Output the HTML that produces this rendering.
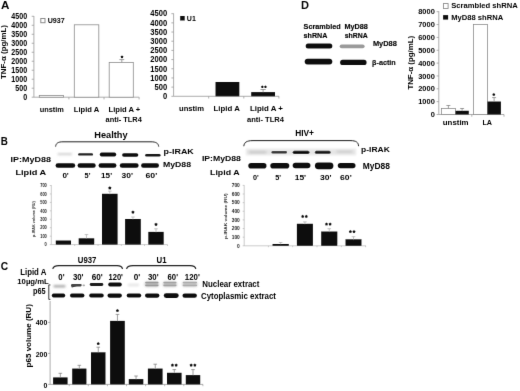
<!DOCTYPE html>
<html><head><meta charset="utf-8"><style>
html,body{margin:0;padding:0;background:#fff;}
svg{display:block;font-family:"Liberation Sans",sans-serif;}
</style></head><body>
<svg width="520" height="391" viewBox="0 0 520 391">
<rect width="520" height="391" fill="#fff"/>
<defs><filter id="b3" x="-20%" y="-100%" width="140%" height="300%"><feGaussianBlur stdDeviation="0.3"/></filter><filter id="b4" x="-20%" y="-100%" width="140%" height="300%"><feGaussianBlur stdDeviation="0.4"/></filter><filter id="b5" x="-20%" y="-100%" width="140%" height="300%"><feGaussianBlur stdDeviation="0.5"/></filter><filter id="b6" x="-20%" y="-100%" width="140%" height="300%"><feGaussianBlur stdDeviation="0.6"/></filter><filter id="b7" x="-20%" y="-100%" width="140%" height="300%"><feGaussianBlur stdDeviation="0.7"/></filter><filter id="b8" x="-20%" y="-100%" width="140%" height="300%"><feGaussianBlur stdDeviation="0.8"/></filter><filter id="b9" x="-20%" y="-100%" width="140%" height="300%"><feGaussianBlur stdDeviation="0.9"/></filter><filter id="b10" x="-20%" y="-100%" width="140%" height="300%"><feGaussianBlur stdDeviation="1.0"/></filter><filter id="b11" x="-20%" y="-100%" width="140%" height="300%"><feGaussianBlur stdDeviation="1.1"/></filter><filter id="b12" x="-20%" y="-100%" width="140%" height="300%"><feGaussianBlur stdDeviation="1.2"/></filter><filter id="b13" x="-20%" y="-100%" width="140%" height="300%"><feGaussianBlur stdDeviation="1.3"/></filter><filter id="b14" x="-20%" y="-100%" width="140%" height="300%"><feGaussianBlur stdDeviation="1.4"/></filter><filter id="b15" x="-20%" y="-100%" width="140%" height="300%"><feGaussianBlur stdDeviation="1.5"/></filter><filter id="gb" filterUnits="userSpaceOnUse" x="0" y="0" width="520" height="391"><feConvolveMatrix order="3" kernelMatrix="0 1 0 1 10 1 0 1 0" edgeMode="none" preserveAlpha="false"/></filter></defs>
<g filter="url(#gb)">
<text x="1.00" y="9.20" font-size="10.5" font-weight="bold" fill="#000" stroke="#000" stroke-width="0.0" textLength="8.40" lengthAdjust="spacingAndGlyphs" >A</text>
<line x1="33.90" y1="16.00" x2="33.90" y2="97.20" stroke="#999" stroke-width="0.8"/>
<line x1="31.70" y1="97.20" x2="33.90" y2="97.20" stroke="#999" stroke-width="0.8"/>
<text x="23.15" y="99.95" font-size="8.3" font-weight="bold" fill="#000" stroke="#000" stroke-width="0.0" textLength="3.95" lengthAdjust="spacingAndGlyphs" >0</text>
<line x1="31.70" y1="88.21" x2="33.90" y2="88.21" stroke="#999" stroke-width="0.8"/>
<text x="15.25" y="90.96" font-size="8.3" font-weight="bold" fill="#000" stroke="#000" stroke-width="0.0" textLength="11.85" lengthAdjust="spacingAndGlyphs" >500</text>
<line x1="31.70" y1="79.22" x2="33.90" y2="79.22" stroke="#999" stroke-width="0.8"/>
<text x="11.30" y="81.97" font-size="8.3" font-weight="bold" fill="#000" stroke="#000" stroke-width="0.0" textLength="15.80" lengthAdjust="spacingAndGlyphs" >1000</text>
<line x1="31.70" y1="70.23" x2="33.90" y2="70.23" stroke="#999" stroke-width="0.8"/>
<text x="11.30" y="72.98" font-size="8.3" font-weight="bold" fill="#000" stroke="#000" stroke-width="0.0" textLength="15.80" lengthAdjust="spacingAndGlyphs" >1500</text>
<line x1="31.70" y1="61.24" x2="33.90" y2="61.24" stroke="#999" stroke-width="0.8"/>
<text x="11.30" y="63.99" font-size="8.3" font-weight="bold" fill="#000" stroke="#000" stroke-width="0.0" textLength="15.80" lengthAdjust="spacingAndGlyphs" >2000</text>
<line x1="31.70" y1="52.25" x2="33.90" y2="52.25" stroke="#999" stroke-width="0.8"/>
<text x="11.30" y="55.00" font-size="8.3" font-weight="bold" fill="#000" stroke="#000" stroke-width="0.0" textLength="15.80" lengthAdjust="spacingAndGlyphs" >2500</text>
<line x1="31.70" y1="43.26" x2="33.90" y2="43.26" stroke="#999" stroke-width="0.8"/>
<text x="11.30" y="46.01" font-size="8.3" font-weight="bold" fill="#000" stroke="#000" stroke-width="0.0" textLength="15.80" lengthAdjust="spacingAndGlyphs" >3000</text>
<line x1="31.70" y1="34.27" x2="33.90" y2="34.27" stroke="#999" stroke-width="0.8"/>
<text x="11.30" y="37.02" font-size="8.3" font-weight="bold" fill="#000" stroke="#000" stroke-width="0.0" textLength="15.80" lengthAdjust="spacingAndGlyphs" >3500</text>
<line x1="31.70" y1="25.28" x2="33.90" y2="25.28" stroke="#999" stroke-width="0.8"/>
<text x="11.30" y="28.03" font-size="8.3" font-weight="bold" fill="#000" stroke="#000" stroke-width="0.0" textLength="15.80" lengthAdjust="spacingAndGlyphs" >4000</text>
<line x1="31.70" y1="16.29" x2="33.90" y2="16.29" stroke="#999" stroke-width="0.8"/>
<text x="11.30" y="19.04" font-size="8.3" font-weight="bold" fill="#000" stroke="#000" stroke-width="0.0" textLength="15.80" lengthAdjust="spacingAndGlyphs" >4500</text>
<line x1="33.90" y1="97.20" x2="139.20" y2="97.20" stroke="#999" stroke-width="0.8"/>
<line x1="68.90" y1="97.20" x2="68.90" y2="99.40" stroke="#999" stroke-width="0.8"/>
<line x1="104.00" y1="97.20" x2="104.00" y2="99.40" stroke="#999" stroke-width="0.8"/>
<line x1="139.10" y1="97.20" x2="139.10" y2="99.40" stroke="#999" stroke-width="0.8"/>
<rect x="39.30" y="95.40" width="24.20" height="1.80" fill="#fff" stroke="#888" stroke-width="0.8" />
<rect x="74.30" y="24.80" width="24.50" height="72.40" fill="#fff" stroke="#888" stroke-width="0.8" />
<rect x="109.20" y="62.40" width="24.10" height="34.80" fill="#fff" stroke="#888" stroke-width="0.8" />
<line x1="121.80" y1="62.40" x2="121.80" y2="59.60" stroke="#777" stroke-width="0.7"/>
<line x1="119.40" y1="59.60" x2="124.20" y2="59.60" stroke="#777" stroke-width="0.7"/>
<polygon points="122.00,55.48 122.64,56.12 123.45,56.53 123.03,57.34 122.89,58.23 122.00,58.09 121.11,58.23 120.97,57.34 120.55,56.53 121.36,56.12" fill="#111"/>
<rect x="40.80" y="18.50" width="4.20" height="4.20" fill="#fff" stroke="#888" stroke-width="1.0" />
<text x="47.70" y="23.30" font-size="7.6" font-weight="bold" fill="#000" stroke="#000" stroke-width="0.0" textLength="17.00" lengthAdjust="spacingAndGlyphs" >U937</text>
<text transform="translate(6.00,79.00) rotate(-90)" x="0" y="0" font-size="7.0" font-weight="bold" fill="#000" stroke="#000" stroke-width="0.0" textLength="54.00" lengthAdjust="spacingAndGlyphs">TNF-α (pg/mL)</text>
<text x="39.70" y="112.00" font-size="7.2" font-weight="bold" fill="#000" stroke="#000" stroke-width="0.0" textLength="24.20" lengthAdjust="spacingAndGlyphs" >unstim</text>
<text x="73.80" y="112.00" font-size="7.2" font-weight="bold" fill="#000" stroke="#000" stroke-width="0.0" textLength="25.40" lengthAdjust="spacingAndGlyphs" >Lipid A</text>
<text x="108.50" y="112.00" font-size="7.2" font-weight="bold" fill="#000" stroke="#000" stroke-width="0.0" textLength="31.80" lengthAdjust="spacingAndGlyphs" >Lipid A +</text>
<text x="105.60" y="122.00" font-size="7.2" font-weight="bold" fill="#000" stroke="#000" stroke-width="0.0" textLength="36.20" lengthAdjust="spacingAndGlyphs" >anti- TLR4</text>
<line x1="173.60" y1="13.40" x2="173.60" y2="96.30" stroke="#999" stroke-width="0.8"/>
<line x1="171.40" y1="96.30" x2="173.60" y2="96.30" stroke="#999" stroke-width="0.8"/>
<text x="162.90" y="99.05" font-size="8.3" font-weight="bold" fill="#000" stroke="#000" stroke-width="0.0" textLength="4.20" lengthAdjust="spacingAndGlyphs" >0</text>
<line x1="171.40" y1="87.12" x2="173.60" y2="87.12" stroke="#999" stroke-width="0.8"/>
<text x="154.50" y="89.87" font-size="8.3" font-weight="bold" fill="#000" stroke="#000" stroke-width="0.0" textLength="12.60" lengthAdjust="spacingAndGlyphs" >500</text>
<line x1="171.40" y1="77.94" x2="173.60" y2="77.94" stroke="#999" stroke-width="0.8"/>
<text x="150.30" y="80.69" font-size="8.3" font-weight="bold" fill="#000" stroke="#000" stroke-width="0.0" textLength="16.80" lengthAdjust="spacingAndGlyphs" >1000</text>
<line x1="171.40" y1="68.76" x2="173.60" y2="68.76" stroke="#999" stroke-width="0.8"/>
<text x="150.30" y="71.51" font-size="8.3" font-weight="bold" fill="#000" stroke="#000" stroke-width="0.0" textLength="16.80" lengthAdjust="spacingAndGlyphs" >1500</text>
<line x1="171.40" y1="59.58" x2="173.60" y2="59.58" stroke="#999" stroke-width="0.8"/>
<text x="150.30" y="62.33" font-size="8.3" font-weight="bold" fill="#000" stroke="#000" stroke-width="0.0" textLength="16.80" lengthAdjust="spacingAndGlyphs" >2000</text>
<line x1="171.40" y1="50.40" x2="173.60" y2="50.40" stroke="#999" stroke-width="0.8"/>
<text x="150.30" y="53.15" font-size="8.3" font-weight="bold" fill="#000" stroke="#000" stroke-width="0.0" textLength="16.80" lengthAdjust="spacingAndGlyphs" >2500</text>
<line x1="171.40" y1="41.22" x2="173.60" y2="41.22" stroke="#999" stroke-width="0.8"/>
<text x="150.30" y="43.97" font-size="8.3" font-weight="bold" fill="#000" stroke="#000" stroke-width="0.0" textLength="16.80" lengthAdjust="spacingAndGlyphs" >3000</text>
<line x1="171.40" y1="32.04" x2="173.60" y2="32.04" stroke="#999" stroke-width="0.8"/>
<text x="150.30" y="34.79" font-size="8.3" font-weight="bold" fill="#000" stroke="#000" stroke-width="0.0" textLength="16.80" lengthAdjust="spacingAndGlyphs" >3500</text>
<line x1="171.40" y1="22.86" x2="173.60" y2="22.86" stroke="#999" stroke-width="0.8"/>
<text x="150.30" y="25.61" font-size="8.3" font-weight="bold" fill="#000" stroke="#000" stroke-width="0.0" textLength="16.80" lengthAdjust="spacingAndGlyphs" >4000</text>
<line x1="171.40" y1="13.68" x2="173.60" y2="13.68" stroke="#999" stroke-width="0.8"/>
<text x="150.30" y="16.43" font-size="8.3" font-weight="bold" fill="#000" stroke="#000" stroke-width="0.0" textLength="16.80" lengthAdjust="spacingAndGlyphs" >4500</text>
<line x1="173.60" y1="96.30" x2="279.00" y2="96.30" stroke="#999" stroke-width="0.8"/>
<line x1="208.70" y1="96.30" x2="208.70" y2="98.50" stroke="#999" stroke-width="0.8"/>
<line x1="243.80" y1="96.30" x2="243.80" y2="98.50" stroke="#999" stroke-width="0.8"/>
<line x1="278.90" y1="96.30" x2="278.90" y2="98.50" stroke="#999" stroke-width="0.8"/>
<rect x="215.50" y="82.00" width="23.80" height="14.30" fill="#111" />
<rect x="251.20" y="92.10" width="23.80" height="4.20" fill="#111" />
<line x1="263.10" y1="92.10" x2="263.10" y2="89.50" stroke="#777" stroke-width="0.7"/>
<line x1="260.50" y1="89.50" x2="265.70" y2="89.50" stroke="#777" stroke-width="0.7"/>
<polygon points="262.35,85.48 262.95,86.08 263.70,86.46 263.31,87.21 263.18,88.05 262.35,87.91 261.52,88.05 261.39,87.21 261.00,86.46 261.75,86.08" fill="#111"/>
<polygon points="265.45,85.48 266.05,86.08 266.80,86.46 266.41,87.21 266.28,88.05 265.45,87.91 264.62,88.05 264.49,87.21 264.10,86.46 264.85,86.08" fill="#111"/>
<rect x="180.20" y="16.00" width="4.50" height="4.50" fill="#111" />
<text x="186.80" y="20.80" font-size="7.8" font-weight="bold" fill="#000" stroke="#000" stroke-width="0.0" textLength="9.00" lengthAdjust="spacingAndGlyphs" >U1</text>
<text x="179.00" y="111.00" font-size="7.2" font-weight="bold" fill="#000" stroke="#000" stroke-width="0.0" textLength="25.00" lengthAdjust="spacingAndGlyphs" >unstim</text>
<text x="213.60" y="111.00" font-size="7.2" font-weight="bold" fill="#000" stroke="#000" stroke-width="0.0" textLength="26.20" lengthAdjust="spacingAndGlyphs" >Lipid A</text>
<text x="250.00" y="111.10" font-size="7.2" font-weight="bold" fill="#000" stroke="#000" stroke-width="0.0" textLength="32.90" lengthAdjust="spacingAndGlyphs" >Lipid A +</text>
<text x="247.00" y="121.70" font-size="7.2" font-weight="bold" fill="#000" stroke="#000" stroke-width="0.0" textLength="36.90" lengthAdjust="spacingAndGlyphs" >anti- TLR4</text>
<text x="301.10" y="8.70" font-size="10.0" font-weight="bold" fill="#000" stroke="#000" stroke-width="0.0" textLength="8.00" lengthAdjust="spacingAndGlyphs" >D</text>
<text x="303.60" y="29.40" font-size="8.0" font-weight="bold" fill="#000" stroke="#000" stroke-width="0.15" textLength="37.10" lengthAdjust="spacingAndGlyphs" >Scrambled</text>
<text x="303.60" y="37.60" font-size="8.0" font-weight="bold" fill="#000" stroke="#000" stroke-width="0.15" textLength="23.80" lengthAdjust="spacingAndGlyphs" >shRNA</text>
<text x="344.40" y="29.40" font-size="8.0" font-weight="bold" fill="#000" stroke="#000" stroke-width="0.15" textLength="23.40" lengthAdjust="spacingAndGlyphs" >MyD88</text>
<text x="344.70" y="37.60" font-size="8.0" font-weight="bold" fill="#000" stroke="#000" stroke-width="0.15" textLength="23.10" lengthAdjust="spacingAndGlyphs" >shRNA</text>
<rect x="305.70" y="43.60" width="26.60" height="5.00" rx="2.50" fill="#111" opacity="1.0" filter="url(#b6)"/>
<rect x="339.70" y="44.40" width="24.90" height="3.80" rx="1.90" fill="#9a9a9a" opacity="1.0" filter="url(#b6)"/>
<rect x="304.70" y="58.70" width="27.60" height="5.80" rx="2.90" fill="#111" opacity="1.0" filter="url(#b6)"/>
<rect x="340.10" y="59.80" width="26.50" height="5.20" rx="2.60" fill="#111" opacity="1.0" filter="url(#b6)"/>
<text x="372.90" y="46.30" font-size="7.8" font-weight="bold" fill="#000" stroke="#000" stroke-width="0.12" textLength="24.00" lengthAdjust="spacingAndGlyphs" >MyD88</text>
<text x="372.10" y="64.60" font-size="7.6" font-weight="bold" fill="#000" stroke="#000" stroke-width="0.12" textLength="23.70" lengthAdjust="spacingAndGlyphs" >β-actin</text>
<line x1="438.80" y1="11.20" x2="438.80" y2="114.50" stroke="#999" stroke-width="0.8"/>
<line x1="436.60" y1="114.50" x2="438.80" y2="114.50" stroke="#999" stroke-width="0.8"/>
<text x="430.65" y="117.05" font-size="7.6" font-weight="bold" fill="#000" stroke="#000" stroke-width="0.0" textLength="4.15" lengthAdjust="spacingAndGlyphs" >0</text>
<line x1="436.60" y1="101.65" x2="438.80" y2="101.65" stroke="#999" stroke-width="0.8"/>
<text x="418.20" y="104.20" font-size="7.6" font-weight="bold" fill="#000" stroke="#000" stroke-width="0.0" textLength="16.60" lengthAdjust="spacingAndGlyphs" >1000</text>
<line x1="436.60" y1="88.80" x2="438.80" y2="88.80" stroke="#999" stroke-width="0.8"/>
<text x="418.20" y="91.35" font-size="7.6" font-weight="bold" fill="#000" stroke="#000" stroke-width="0.0" textLength="16.60" lengthAdjust="spacingAndGlyphs" >2000</text>
<line x1="436.60" y1="75.95" x2="438.80" y2="75.95" stroke="#999" stroke-width="0.8"/>
<text x="418.20" y="78.50" font-size="7.6" font-weight="bold" fill="#000" stroke="#000" stroke-width="0.0" textLength="16.60" lengthAdjust="spacingAndGlyphs" >3000</text>
<line x1="436.60" y1="63.10" x2="438.80" y2="63.10" stroke="#999" stroke-width="0.8"/>
<text x="418.20" y="65.65" font-size="7.6" font-weight="bold" fill="#000" stroke="#000" stroke-width="0.0" textLength="16.60" lengthAdjust="spacingAndGlyphs" >4000</text>
<line x1="436.60" y1="50.25" x2="438.80" y2="50.25" stroke="#999" stroke-width="0.8"/>
<text x="418.20" y="52.80" font-size="7.6" font-weight="bold" fill="#000" stroke="#000" stroke-width="0.0" textLength="16.60" lengthAdjust="spacingAndGlyphs" >5000</text>
<line x1="436.60" y1="37.40" x2="438.80" y2="37.40" stroke="#999" stroke-width="0.8"/>
<text x="418.20" y="39.95" font-size="7.6" font-weight="bold" fill="#000" stroke="#000" stroke-width="0.0" textLength="16.60" lengthAdjust="spacingAndGlyphs" >6000</text>
<line x1="436.60" y1="24.55" x2="438.80" y2="24.55" stroke="#999" stroke-width="0.8"/>
<text x="418.20" y="27.10" font-size="7.6" font-weight="bold" fill="#000" stroke="#000" stroke-width="0.0" textLength="16.60" lengthAdjust="spacingAndGlyphs" >7000</text>
<line x1="436.60" y1="11.70" x2="438.80" y2="11.70" stroke="#999" stroke-width="0.8"/>
<text x="418.20" y="14.25" font-size="7.6" font-weight="bold" fill="#000" stroke="#000" stroke-width="0.0" textLength="16.60" lengthAdjust="spacingAndGlyphs" >8000</text>
<line x1="438.80" y1="114.50" x2="504.00" y2="114.50" stroke="#999" stroke-width="0.8"/>
<line x1="471.80" y1="114.50" x2="471.80" y2="116.70" stroke="#999" stroke-width="0.8"/>
<line x1="504.00" y1="114.50" x2="504.00" y2="116.70" stroke="#999" stroke-width="0.8"/>
<rect x="441.50" y="108.50" width="13.90" height="6.00" fill="#fff" stroke="#888" stroke-width="0.8" />
<line x1="448.40" y1="108.50" x2="448.40" y2="105.50" stroke="#777" stroke-width="0.7"/>
<line x1="446.40" y1="105.50" x2="450.40" y2="105.50" stroke="#777" stroke-width="0.7"/>
<rect x="455.40" y="110.80" width="13.40" height="3.70" fill="#111" />
<line x1="462.10" y1="110.80" x2="462.10" y2="108.50" stroke="#777" stroke-width="0.7"/>
<line x1="460.10" y1="108.50" x2="464.10" y2="108.50" stroke="#777" stroke-width="0.7"/>
<rect x="473.50" y="24.50" width="14.00" height="90.00" fill="#fff" stroke="#888" stroke-width="0.8" />
<rect x="487.30" y="101.50" width="13.60" height="13.00" fill="#111" />
<line x1="494.10" y1="101.50" x2="494.10" y2="97.60" stroke="#777" stroke-width="0.7"/>
<line x1="492.10" y1="97.60" x2="496.10" y2="97.60" stroke="#777" stroke-width="0.7"/>
<polygon points="493.80,93.02 494.46,93.69 495.30,94.11 494.87,94.95 494.73,95.87 493.80,95.72 492.87,95.87 492.73,94.95 492.30,94.11 493.14,93.69" fill="#111"/>
<rect x="443.40" y="3.60" width="4.70" height="4.80" fill="#fff" stroke="#777" stroke-width="0.8" />
<text x="451.20" y="8.30" font-size="8.0" font-weight="bold" fill="#000" stroke="#000" stroke-width="0.0" textLength="66.50" lengthAdjust="spacingAndGlyphs" >Scrambled shRNA</text>
<rect x="443.10" y="15.10" width="5.00" height="4.50" fill="#111" />
<text x="451.20" y="20.10" font-size="8.0" font-weight="bold" fill="#000" stroke="#000" stroke-width="0.0" textLength="52.00" lengthAdjust="spacingAndGlyphs" >MyD88 shRNA</text>
<text x="442.80" y="124.60" font-size="7.6" font-weight="bold" fill="#000" stroke="#000" stroke-width="0.0" textLength="25.80" lengthAdjust="spacingAndGlyphs" >unstim</text>
<text x="482.40" y="124.50" font-size="7.6" font-weight="bold" fill="#000" stroke="#000" stroke-width="0.0" textLength="9.60" lengthAdjust="spacingAndGlyphs" >LA</text>
<text transform="translate(413.40,89.60) rotate(-90)" x="0" y="0" font-size="7.0" font-weight="bold" fill="#000" stroke="#000" stroke-width="0.0" textLength="53.70" lengthAdjust="spacingAndGlyphs">TNF-α (pg/mL)</text>
<text x="0.80" y="144.80" font-size="10.8" font-weight="bold" fill="#000" stroke="#000" stroke-width="0.0" textLength="7.10" lengthAdjust="spacingAndGlyphs" >B</text>
<text x="94.30" y="138.00" font-size="8.4" font-weight="bold" fill="#000" stroke="#000" stroke-width="0.0" textLength="33.30" lengthAdjust="spacingAndGlyphs" >Healthy</text>
<path d="M55.6,146.6 C56,143.2 58,141.8 63,141.8 L151,141.8 C156,141.8 158.3,143.2 158.7,146.6" fill="none" stroke="#222" stroke-width="1.0"/>
<text x="10.60" y="161.60" font-size="8.0" font-weight="bold" fill="#000" stroke="#000" stroke-width="0.0" textLength="40.40" lengthAdjust="spacingAndGlyphs" >IP:MyD88</text>
<text x="15.40" y="174.80" font-size="7.8" font-weight="bold" fill="#000" stroke="#000" stroke-width="0.0" textLength="30.80" lengthAdjust="spacingAndGlyphs" >Lipid A</text>
<rect x="57.40" y="153.10" width="14.80" height="2.20" rx="1.10" fill="#d4d4d4" opacity="1.0" filter="url(#b8)"/>
<rect x="78.20" y="153.20" width="14.80" height="2.40" rx="1.20" fill="#222" opacity="1.0" filter="url(#b6)"/>
<rect x="99.80" y="152.60" width="16.40" height="4.00" rx="2.00" fill="#111" opacity="1.0" filter="url(#b5)"/>
<rect x="122.10" y="153.20" width="16.20" height="3.60" rx="1.80" fill="#111" opacity="1.0" filter="url(#b5)"/>
<rect x="145.20" y="153.90" width="15.30" height="2.60" rx="1.30" fill="#151515" opacity="1.0" filter="url(#b6)"/>
<rect x="55.60" y="163.20" width="19.60" height="4.60" rx="2.30" fill="#0d0d0d" opacity="1.0" filter="url(#b5)"/>
<rect x="77.60" y="163.20" width="18.10" height="4.60" rx="2.30" fill="#0d0d0d" opacity="1.0" filter="url(#b5)"/>
<rect x="98.60" y="163.20" width="17.80" height="4.60" rx="2.30" fill="#0d0d0d" opacity="1.0" filter="url(#b5)"/>
<rect x="119.80" y="163.20" width="18.80" height="4.60" rx="2.30" fill="#0d0d0d" opacity="1.0" filter="url(#b5)"/>
<rect x="141.10" y="163.20" width="17.90" height="4.60" rx="2.30" fill="#0d0d0d" opacity="1.0" filter="url(#b5)"/>
<text x="163.60" y="153.90" font-size="7.8" font-weight="bold" fill="#000" stroke="#000" stroke-width="0.0" textLength="30.20" lengthAdjust="spacingAndGlyphs" >p-IRAK</text>
<text x="162.90" y="167.10" font-size="8.0" font-weight="bold" fill="#000" stroke="#000" stroke-width="0.0" textLength="28.10" lengthAdjust="spacingAndGlyphs" >MyD88</text>
<text x="62.40" y="178.40" font-size="8.0" font-weight="bold" fill="#000" stroke="#000" stroke-width="0.0" textLength="6.40" lengthAdjust="spacingAndGlyphs" >0'</text>
<text x="84.60" y="178.40" font-size="8.0" font-weight="bold" fill="#000" stroke="#000" stroke-width="0.0" textLength="5.80" lengthAdjust="spacingAndGlyphs" >5'</text>
<text x="101.10" y="178.40" font-size="8.0" font-weight="bold" fill="#000" stroke="#000" stroke-width="0.0" textLength="11.00" lengthAdjust="spacingAndGlyphs" >15'</text>
<text x="121.60" y="178.40" font-size="8.0" font-weight="bold" fill="#000" stroke="#000" stroke-width="0.0" textLength="11.40" lengthAdjust="spacingAndGlyphs" >30'</text>
<text x="145.50" y="178.40" font-size="8.0" font-weight="bold" fill="#000" stroke="#000" stroke-width="0.0" textLength="11.80" lengthAdjust="spacingAndGlyphs" >60'</text>
<line x1="51.30" y1="185.20" x2="51.30" y2="244.60" stroke="#aaa" stroke-width="0.6"/>
<line x1="49.80" y1="244.60" x2="51.30" y2="244.60" stroke="#aaa" stroke-width="0.6"/>
<text x="44.60" y="246.35" font-size="5.0" font-weight="bold" fill="#222" stroke="#222" stroke-width="0.0" textLength="2.20" lengthAdjust="spacingAndGlyphs" >0</text>
<line x1="49.80" y1="236.16" x2="51.30" y2="236.16" stroke="#aaa" stroke-width="0.6"/>
<text x="40.20" y="237.91" font-size="5.0" font-weight="bold" fill="#222" stroke="#222" stroke-width="0.0" textLength="6.60" lengthAdjust="spacingAndGlyphs" >100</text>
<line x1="49.80" y1="227.72" x2="51.30" y2="227.72" stroke="#aaa" stroke-width="0.6"/>
<text x="40.20" y="229.47" font-size="5.0" font-weight="bold" fill="#222" stroke="#222" stroke-width="0.0" textLength="6.60" lengthAdjust="spacingAndGlyphs" >200</text>
<line x1="49.80" y1="219.28" x2="51.30" y2="219.28" stroke="#aaa" stroke-width="0.6"/>
<text x="40.20" y="221.03" font-size="5.0" font-weight="bold" fill="#222" stroke="#222" stroke-width="0.0" textLength="6.60" lengthAdjust="spacingAndGlyphs" >300</text>
<line x1="49.80" y1="210.84" x2="51.30" y2="210.84" stroke="#aaa" stroke-width="0.6"/>
<text x="40.20" y="212.59" font-size="5.0" font-weight="bold" fill="#222" stroke="#222" stroke-width="0.0" textLength="6.60" lengthAdjust="spacingAndGlyphs" >400</text>
<line x1="49.80" y1="202.40" x2="51.30" y2="202.40" stroke="#aaa" stroke-width="0.6"/>
<text x="40.20" y="204.15" font-size="5.0" font-weight="bold" fill="#222" stroke="#222" stroke-width="0.0" textLength="6.60" lengthAdjust="spacingAndGlyphs" >500</text>
<line x1="49.80" y1="193.96" x2="51.30" y2="193.96" stroke="#aaa" stroke-width="0.6"/>
<text x="40.20" y="195.71" font-size="5.0" font-weight="bold" fill="#222" stroke="#222" stroke-width="0.0" textLength="6.60" lengthAdjust="spacingAndGlyphs" >600</text>
<line x1="49.80" y1="185.52" x2="51.30" y2="185.52" stroke="#aaa" stroke-width="0.6"/>
<text x="40.20" y="187.27" font-size="5.0" font-weight="bold" fill="#222" stroke="#222" stroke-width="0.0" textLength="6.60" lengthAdjust="spacingAndGlyphs" >700</text>
<line x1="51.30" y1="244.60" x2="167.50" y2="244.60" stroke="#aaa" stroke-width="0.6"/>
<line x1="74.70" y1="244.60" x2="74.70" y2="246.00" stroke="#aaa" stroke-width="0.6"/>
<line x1="98.00" y1="244.60" x2="98.00" y2="246.00" stroke="#aaa" stroke-width="0.6"/>
<line x1="121.30" y1="244.60" x2="121.30" y2="246.00" stroke="#aaa" stroke-width="0.6"/>
<line x1="144.50" y1="244.60" x2="144.50" y2="246.00" stroke="#aaa" stroke-width="0.6"/>
<line x1="167.50" y1="244.60" x2="167.50" y2="246.00" stroke="#aaa" stroke-width="0.6"/>
<rect x="55.80" y="240.50" width="15.20" height="4.10" fill="#111" />
<rect x="78.70" y="238.30" width="15.50" height="6.30" fill="#111" />
<line x1="86.45" y1="238.30" x2="86.45" y2="234.60" stroke="#aaa" stroke-width="0.7"/>
<line x1="84.65" y1="234.60" x2="88.25" y2="234.60" stroke="#aaa" stroke-width="0.7"/>
<rect x="102.00" y="193.80" width="15.60" height="50.80" fill="#111" />
<line x1="109.80" y1="193.80" x2="109.80" y2="191.10" stroke="#aaa" stroke-width="0.7"/>
<line x1="108.00" y1="191.10" x2="111.60" y2="191.10" stroke="#aaa" stroke-width="0.7"/>
<polygon points="109.80,186.27 110.53,187.00 111.45,187.46 110.98,188.38 110.82,189.40 109.80,189.24 108.78,189.40 108.62,188.38 108.15,187.46 109.07,187.00" fill="#111"/>
<rect x="125.10" y="219.00" width="15.70" height="25.60" fill="#111" />
<line x1="132.95" y1="219.00" x2="132.95" y2="217.00" stroke="#aaa" stroke-width="0.7"/>
<line x1="131.15" y1="217.00" x2="134.75" y2="217.00" stroke="#aaa" stroke-width="0.7"/>
<polygon points="132.95,210.47 133.68,211.20 134.60,211.66 134.13,212.58 133.97,213.60 132.95,213.44 131.93,213.60 131.77,212.58 131.30,211.66 132.22,211.20" fill="#111"/>
<rect x="148.30" y="231.90" width="15.40" height="12.70" fill="#111" />
<line x1="156.00" y1="231.90" x2="156.00" y2="228.80" stroke="#aaa" stroke-width="0.7"/>
<line x1="154.20" y1="228.80" x2="157.80" y2="228.80" stroke="#aaa" stroke-width="0.7"/>
<polygon points="156.00,222.67 156.73,223.40 157.65,223.86 157.18,224.78 157.02,225.80 156.00,225.64 154.98,225.80 154.82,224.78 154.35,223.86 155.27,223.40" fill="#111"/>
<text transform="translate(34.60,236.90) rotate(-90)" x="0" y="0" font-size="4.2" font-weight="bold" fill="#333" stroke="#333" stroke-width="0.0" textLength="35.70" lengthAdjust="spacingAndGlyphs">p-IRAK volume (RU)</text>
<text x="295.20" y="135.90" font-size="8.2" font-weight="bold" fill="#000" stroke="#000" stroke-width="0.0" textLength="18.80" lengthAdjust="spacingAndGlyphs" >HIV+</text>
<path d="M243.8,146.2 C244.2,142.4 246.5,140.6 253,140.6 L350,140.6 C356.5,140.6 358.3,142.4 358.6,146.2" fill="none" stroke="#222" stroke-width="1.0"/>
<text x="201.90" y="161.40" font-size="8.0" font-weight="bold" fill="#000" stroke="#000" stroke-width="0.0" textLength="39.00" lengthAdjust="spacingAndGlyphs" >IP:MyD88</text>
<text x="210.00" y="175.00" font-size="7.8" font-weight="bold" fill="#000" stroke="#000" stroke-width="0.0" textLength="29.60" lengthAdjust="spacingAndGlyphs" >Lipid A</text>
<rect x="246" y="148.8" width="110" height="6.4" fill="#e6e6e6" filter="url(#b10)"/>
<rect x="249.00" y="151.30" width="17.50" height="2.00" rx="1.00" fill="#c4c4c4" opacity="1.0" filter="url(#b8)"/>
<rect x="271.50" y="151.10" width="15.50" height="2.40" rx="1.20" fill="#333" opacity="1.0" filter="url(#b6)"/>
<rect x="292.70" y="150.70" width="16.80" height="3.20" rx="1.60" fill="#0c0c0c" opacity="1.0" filter="url(#b6)"/>
<rect x="314.90" y="150.80" width="15.70" height="3.00" rx="1.50" fill="#181818" opacity="1.0" filter="url(#b6)"/>
<rect x="336.40" y="150.70" width="16.20" height="1.80" rx="0.90" fill="#c8c8c8" opacity="1.0" filter="url(#b8)"/>
<rect x="248.30" y="162.90" width="18.20" height="5.60" rx="2.80" fill="#111" opacity="1.0" filter="url(#b6)"/>
<rect x="270.30" y="162.90" width="19.00" height="5.60" rx="2.80" fill="#111" opacity="1.0" filter="url(#b6)"/>
<rect x="292.70" y="162.80" width="17.70" height="5.40" rx="2.70" fill="#111" opacity="1.0" filter="url(#b6)"/>
<rect x="314.90" y="162.40" width="18.50" height="6.80" rx="3.40" fill="#111" opacity="1.0" filter="url(#b6)"/>
<rect x="337.80" y="163.00" width="17.70" height="5.20" rx="2.60" fill="#111" opacity="1.0" filter="url(#b6)"/>
<text x="361.10" y="152.30" font-size="7.8" font-weight="bold" fill="#000" stroke="#000" stroke-width="0.0" textLength="28.70" lengthAdjust="spacingAndGlyphs" >p-IRAK</text>
<text x="362.70" y="169.40" font-size="8.2" font-weight="bold" fill="#000" stroke="#000" stroke-width="0.0" textLength="27.20" lengthAdjust="spacingAndGlyphs" >MyD88</text>
<text x="253.00" y="180.10" font-size="8.0" font-weight="bold" fill="#000" stroke="#000" stroke-width="0.0" textLength="5.70" lengthAdjust="spacingAndGlyphs" >0'</text>
<text x="275.20" y="180.10" font-size="8.0" font-weight="bold" fill="#000" stroke="#000" stroke-width="0.0" textLength="5.80" lengthAdjust="spacingAndGlyphs" >5'</text>
<text x="294.70" y="180.10" font-size="8.0" font-weight="bold" fill="#000" stroke="#000" stroke-width="0.0" textLength="11.40" lengthAdjust="spacingAndGlyphs" >15'</text>
<text x="320.00" y="180.10" font-size="8.0" font-weight="bold" fill="#000" stroke="#000" stroke-width="0.0" textLength="11.60" lengthAdjust="spacingAndGlyphs" >30'</text>
<text x="340.10" y="180.10" font-size="8.0" font-weight="bold" fill="#000" stroke="#000" stroke-width="0.0" textLength="11.60" lengthAdjust="spacingAndGlyphs" >60'</text>
<line x1="244.20" y1="185.20" x2="244.20" y2="245.80" stroke="#aaa" stroke-width="0.6"/>
<line x1="242.70" y1="245.80" x2="244.20" y2="245.80" stroke="#aaa" stroke-width="0.6"/>
<text x="237.10" y="247.55" font-size="5.0" font-weight="bold" fill="#222" stroke="#222" stroke-width="0.0" textLength="2.70" lengthAdjust="spacingAndGlyphs" >0</text>
<line x1="242.70" y1="237.17" x2="244.20" y2="237.17" stroke="#aaa" stroke-width="0.6"/>
<text x="231.70" y="238.92" font-size="5.0" font-weight="bold" fill="#222" stroke="#222" stroke-width="0.0" textLength="8.10" lengthAdjust="spacingAndGlyphs" >100</text>
<line x1="242.70" y1="228.54" x2="244.20" y2="228.54" stroke="#aaa" stroke-width="0.6"/>
<text x="231.70" y="230.29" font-size="5.0" font-weight="bold" fill="#222" stroke="#222" stroke-width="0.0" textLength="8.10" lengthAdjust="spacingAndGlyphs" >200</text>
<line x1="242.70" y1="219.91" x2="244.20" y2="219.91" stroke="#aaa" stroke-width="0.6"/>
<text x="231.70" y="221.66" font-size="5.0" font-weight="bold" fill="#222" stroke="#222" stroke-width="0.0" textLength="8.10" lengthAdjust="spacingAndGlyphs" >300</text>
<line x1="242.70" y1="211.28" x2="244.20" y2="211.28" stroke="#aaa" stroke-width="0.6"/>
<text x="231.70" y="213.03" font-size="5.0" font-weight="bold" fill="#222" stroke="#222" stroke-width="0.0" textLength="8.10" lengthAdjust="spacingAndGlyphs" >400</text>
<line x1="242.70" y1="202.65" x2="244.20" y2="202.65" stroke="#aaa" stroke-width="0.6"/>
<text x="231.70" y="204.40" font-size="5.0" font-weight="bold" fill="#222" stroke="#222" stroke-width="0.0" textLength="8.10" lengthAdjust="spacingAndGlyphs" >500</text>
<line x1="242.70" y1="194.02" x2="244.20" y2="194.02" stroke="#aaa" stroke-width="0.6"/>
<text x="231.70" y="195.77" font-size="5.0" font-weight="bold" fill="#222" stroke="#222" stroke-width="0.0" textLength="8.10" lengthAdjust="spacingAndGlyphs" >600</text>
<line x1="242.70" y1="185.39" x2="244.20" y2="185.39" stroke="#aaa" stroke-width="0.6"/>
<text x="231.70" y="187.14" font-size="5.0" font-weight="bold" fill="#222" stroke="#222" stroke-width="0.0" textLength="8.10" lengthAdjust="spacingAndGlyphs" >700</text>
<line x1="244.20" y1="245.80" x2="366.00" y2="245.80" stroke="#aaa" stroke-width="0.6"/>
<line x1="268.40" y1="245.80" x2="268.40" y2="247.20" stroke="#aaa" stroke-width="0.6"/>
<line x1="292.70" y1="245.80" x2="292.70" y2="247.20" stroke="#aaa" stroke-width="0.6"/>
<line x1="317.00" y1="245.80" x2="317.00" y2="247.20" stroke="#aaa" stroke-width="0.6"/>
<line x1="341.30" y1="245.80" x2="341.30" y2="247.20" stroke="#aaa" stroke-width="0.6"/>
<line x1="365.60" y1="245.80" x2="365.60" y2="247.20" stroke="#aaa" stroke-width="0.6"/>
<rect x="272.50" y="244.00" width="16.30" height="1.80" fill="#111" />
<line x1="280.65" y1="244.00" x2="280.65" y2="242.50" stroke="#aaa" stroke-width="0.7"/>
<line x1="278.85" y1="242.50" x2="282.45" y2="242.50" stroke="#aaa" stroke-width="0.7"/>
<rect x="296.90" y="223.80" width="16.00" height="22.00" fill="#111" />
<line x1="304.90" y1="223.80" x2="304.90" y2="221.90" stroke="#aaa" stroke-width="0.7"/>
<line x1="303.10" y1="221.90" x2="306.70" y2="221.90" stroke="#aaa" stroke-width="0.7"/>
<polygon points="302.70,214.87 303.38,215.56 304.25,216.00 303.81,216.86 303.66,217.82 302.70,217.66 301.74,217.82 301.59,216.86 301.15,216.00 302.02,215.56" fill="#111"/>
<polygon points="306.30,214.87 306.98,215.56 307.85,216.00 307.41,216.86 307.26,217.82 306.30,217.66 305.34,217.82 305.19,216.86 304.75,216.00 305.62,215.56" fill="#111"/>
<rect x="321.20" y="231.50" width="16.10" height="14.30" fill="#111" />
<line x1="329.25" y1="231.50" x2="329.25" y2="228.70" stroke="#aaa" stroke-width="0.7"/>
<line x1="327.45" y1="228.70" x2="331.05" y2="228.70" stroke="#aaa" stroke-width="0.7"/>
<polygon points="326.50,222.57 327.18,223.26 328.05,223.70 327.61,224.56 327.46,225.52 326.50,225.36 325.54,225.52 325.39,224.56 324.95,223.70 325.82,223.26" fill="#111"/>
<polygon points="330.10,222.57 330.78,223.26 331.65,223.70 331.21,224.56 331.06,225.52 330.10,225.36 329.14,225.52 328.99,224.56 328.55,223.70 329.42,223.26" fill="#111"/>
<rect x="345.50" y="239.30" width="16.00" height="6.50" fill="#111" />
<line x1="353.50" y1="239.30" x2="353.50" y2="236.70" stroke="#aaa" stroke-width="0.7"/>
<line x1="351.70" y1="236.70" x2="355.30" y2="236.70" stroke="#aaa" stroke-width="0.7"/>
<polygon points="350.40,229.97 351.08,230.66 351.95,231.10 351.51,231.96 351.36,232.92 350.40,232.76 349.44,232.92 349.29,231.96 348.85,231.10 349.72,230.66" fill="#111"/>
<polygon points="354.00,229.97 354.68,230.66 355.55,231.10 355.11,231.96 354.96,232.92 354.00,232.76 353.04,232.92 352.89,231.96 352.45,231.10 353.32,230.66" fill="#111"/>
<text transform="translate(226.90,239.00) rotate(-90)" x="0" y="0" font-size="4.2" font-weight="bold" fill="#333" stroke="#333" stroke-width="0.0" textLength="45.60" lengthAdjust="spacingAndGlyphs">p-IRAK volume (RU)</text>
<text x="0.80" y="270.40" font-size="11.2" font-weight="bold" fill="#000" stroke="#000" stroke-width="0.0" textLength="7.40" lengthAdjust="spacingAndGlyphs" >C</text>
<text x="77.80" y="263.20" font-size="8.4" font-weight="bold" fill="#000" stroke="#000" stroke-width="0.0" textLength="18.50" lengthAdjust="spacingAndGlyphs" >U937</text>
<text x="156.50" y="263.20" font-size="8.4" font-weight="bold" fill="#000" stroke="#000" stroke-width="0.0" textLength="10.00" lengthAdjust="spacingAndGlyphs" >U1</text>
<path d="M52.8,269 C53,266.8 54.5,265.6 59,265.6 L117,265.6 C121,265.6 122.3,266.8 122.5,269" fill="none" stroke="#222" stroke-width="1.1"/>
<path d="M126.6,269 C126.8,266.8 128.3,265.6 133,265.6 L190,265.6 C194.3,265.6 195.6,266.8 195.8,269" fill="none" stroke="#222" stroke-width="1.1"/>
<text x="20.20" y="275.00" font-size="8.2" font-weight="bold" fill="#000" stroke="#000" stroke-width="0.0" textLength="26.20" lengthAdjust="spacingAndGlyphs" >Lipid A</text>
<text x="17.30" y="283.80" font-size="8.0" font-weight="bold" fill="#000" stroke="#000" stroke-width="0.0" textLength="31.50" lengthAdjust="spacingAndGlyphs" >10µg/mL</text>
<text x="33.10" y="294.00" font-size="8.4" font-weight="bold" fill="#000" stroke="#000" stroke-width="0.0" textLength="12.60" lengthAdjust="spacingAndGlyphs" >p65</text>
<path d="M50.4,284.9 L48.8,284.9 L48.8,299.4 L50.4,299.4" fill="none" stroke="#222" stroke-width="0.9"/>
<text x="58.30" y="279.50" font-size="8.2" font-weight="bold" fill="#000" stroke="#000" stroke-width="0.0" textLength="6.20" lengthAdjust="spacingAndGlyphs" >0'</text>
<text x="72.90" y="279.50" font-size="8.2" font-weight="bold" fill="#000" stroke="#000" stroke-width="0.0" textLength="10.60" lengthAdjust="spacingAndGlyphs" >30'</text>
<text x="91.70" y="279.50" font-size="8.2" font-weight="bold" fill="#000" stroke="#000" stroke-width="0.0" textLength="11.00" lengthAdjust="spacingAndGlyphs" >60'</text>
<text x="108.50" y="279.50" font-size="8.2" font-weight="bold" fill="#000" stroke="#000" stroke-width="0.0" textLength="14.40" lengthAdjust="spacingAndGlyphs" >120'</text>
<text x="133.70" y="279.50" font-size="8.2" font-weight="bold" fill="#000" stroke="#000" stroke-width="0.0" textLength="6.50" lengthAdjust="spacingAndGlyphs" >0'</text>
<text x="148.00" y="279.50" font-size="8.2" font-weight="bold" fill="#000" stroke="#000" stroke-width="0.0" textLength="10.60" lengthAdjust="spacingAndGlyphs" >30'</text>
<text x="167.60" y="279.50" font-size="8.2" font-weight="bold" fill="#000" stroke="#000" stroke-width="0.0" textLength="10.40" lengthAdjust="spacingAndGlyphs" >60'</text>
<text x="184.80" y="279.50" font-size="8.2" font-weight="bold" fill="#000" stroke="#000" stroke-width="0.0" textLength="15.00" lengthAdjust="spacingAndGlyphs" >120'</text>
<rect x="53.50" y="285.00" width="12.00" height="2.60" rx="1.30" fill="#aaa" opacity="1.0" filter="url(#b8)"/>
<path d="M71,286.6 L80,284 L82,284.6 L72,287.4 Z" fill="#333" filter="url(#b7)"/>
<rect x="71.00" y="284.10" width="10.50" height="2.40" rx="1.20" fill="#444" opacity="1.0" filter="url(#b7)"/>
<rect x="82.50" y="284.40" width="2.50" height="1.80" rx="0.90" fill="#aaa" opacity="1.0" filter="url(#b7)"/>
<rect x="89.80" y="283.10" width="13.50" height="2.80" rx="1.40" fill="#1a1a1a" opacity="1.0" filter="url(#b6)"/>
<rect x="108.20" y="282.60" width="13.60" height="3.80" rx="1.90" fill="#111" opacity="1.0" filter="url(#b6)"/>
<rect x="127.70" y="283.80" width="11.50" height="2.40" rx="1.20" fill="#e4e4e4" opacity="1.0" filter="url(#b8)"/>
<rect x="144.60" y="281.60" width="14.40" height="5.40" rx="2.70" fill="#c8c8c8" opacity="1.0" filter="url(#b8)"/>
<rect x="145.10" y="281.80" width="13.40" height="1.60" rx="0.80" fill="#999" opacity="1.0" filter="url(#b7)"/>
<rect x="145.10" y="284.60" width="13.40" height="1.60" rx="0.80" fill="#999" opacity="1.0" filter="url(#b7)"/>
<rect x="162.80" y="281.60" width="14.20" height="5.40" rx="2.70" fill="#cbcbcb" opacity="1.0" filter="url(#b8)"/>
<rect x="163.30" y="281.80" width="13.20" height="1.60" rx="0.80" fill="#a2a2a2" opacity="1.0" filter="url(#b7)"/>
<rect x="163.30" y="284.60" width="13.20" height="1.60" rx="0.80" fill="#a2a2a2" opacity="1.0" filter="url(#b7)"/>
<rect x="182.20" y="281.60" width="15.40" height="5.40" rx="2.70" fill="#d2d2d2" opacity="1.0" filter="url(#b8)"/>
<rect x="182.70" y="281.80" width="14.40" height="1.60" rx="0.80" fill="#acacac" opacity="1.0" filter="url(#b7)"/>
<rect x="182.70" y="284.60" width="14.40" height="1.60" rx="0.80" fill="#acacac" opacity="1.0" filter="url(#b7)"/>
<rect x="51.80" y="293.60" width="13.40" height="4.00" rx="2.00" fill="#111" opacity="1.0" filter="url(#b6)"/>
<rect x="70.00" y="293.60" width="14.40" height="4.00" rx="2.00" fill="#111" opacity="1.0" filter="url(#b6)"/>
<rect x="89.20" y="293.60" width="14.50" height="4.00" rx="2.00" fill="#111" opacity="1.0" filter="url(#b6)"/>
<rect x="107.50" y="293.50" width="14.40" height="4.20" rx="2.10" fill="#111" opacity="1.0" filter="url(#b6)"/>
<rect x="126.70" y="293.60" width="14.50" height="4.00" rx="2.00" fill="#111" opacity="1.0" filter="url(#b6)"/>
<rect x="145.00" y="293.50" width="14.40" height="4.20" rx="2.10" fill="#111" opacity="1.0" filter="url(#b6)"/>
<rect x="163.80" y="293.20" width="14.90" height="4.80" rx="2.40" fill="#111" opacity="1.0" filter="url(#b6)"/>
<rect x="182.50" y="293.40" width="14.40" height="4.40" rx="2.20" fill="#111" opacity="1.0" filter="url(#b6)"/>
<text x="202.30" y="286.50" font-size="8.2" font-weight="bold" fill="#000" stroke="#000" stroke-width="0.0" textLength="57.10" lengthAdjust="spacingAndGlyphs" >Nuclear extract</text>
<text x="201.00" y="298.50" font-size="8.4" font-weight="bold" fill="#000" stroke="#000" stroke-width="0.0" textLength="75.00" lengthAdjust="spacingAndGlyphs" >Cytoplasmic extract</text>
<line x1="50.10" y1="301.00" x2="50.10" y2="384.40" stroke="#999" stroke-width="0.8"/>
<line x1="48.10" y1="384.40" x2="50.10" y2="384.40" stroke="#999" stroke-width="0.8"/>
<text x="43.50" y="387.70" font-size="7.4" font-weight="bold" fill="#000" stroke="#000" stroke-width="0.0" textLength="3.90" lengthAdjust="spacingAndGlyphs" >0</text>
<line x1="48.10" y1="353.40" x2="50.10" y2="353.40" stroke="#999" stroke-width="0.8"/>
<text x="35.70" y="356.60" font-size="7.4" font-weight="bold" fill="#000" stroke="#000" stroke-width="0.0" textLength="11.70" lengthAdjust="spacingAndGlyphs" >200</text>
<line x1="48.10" y1="322.40" x2="50.10" y2="322.40" stroke="#999" stroke-width="0.8"/>
<text x="35.70" y="324.60" font-size="7.4" font-weight="bold" fill="#000" stroke="#000" stroke-width="0.0" textLength="11.70" lengthAdjust="spacingAndGlyphs" >400</text>
<line x1="50.10" y1="384.40" x2="203.00" y2="384.40" stroke="#999" stroke-width="0.8"/>
<line x1="69.20" y1="384.40" x2="69.20" y2="386.20" stroke="#999" stroke-width="0.7"/>
<line x1="88.30" y1="384.40" x2="88.30" y2="386.20" stroke="#999" stroke-width="0.7"/>
<line x1="107.40" y1="384.40" x2="107.40" y2="386.20" stroke="#999" stroke-width="0.7"/>
<line x1="126.50" y1="384.40" x2="126.50" y2="386.20" stroke="#999" stroke-width="0.7"/>
<line x1="145.60" y1="384.40" x2="145.60" y2="386.20" stroke="#999" stroke-width="0.7"/>
<line x1="164.70" y1="384.40" x2="164.70" y2="386.20" stroke="#999" stroke-width="0.7"/>
<line x1="183.80" y1="384.40" x2="183.80" y2="386.20" stroke="#999" stroke-width="0.7"/>
<line x1="202.90" y1="384.40" x2="202.90" y2="386.20" stroke="#999" stroke-width="0.7"/>
<rect x="53.10" y="377.40" width="14.50" height="7.00" fill="#111" />
<line x1="60.35" y1="377.40" x2="60.35" y2="373.30" stroke="#777" stroke-width="0.7"/>
<line x1="58.55" y1="373.30" x2="62.15" y2="373.30" stroke="#777" stroke-width="0.7"/>
<rect x="72.20" y="368.60" width="14.20" height="15.80" fill="#111" />
<line x1="79.30" y1="368.60" x2="79.30" y2="365.30" stroke="#777" stroke-width="0.7"/>
<line x1="77.50" y1="365.30" x2="81.10" y2="365.30" stroke="#777" stroke-width="0.7"/>
<rect x="91.00" y="352.30" width="14.50" height="32.10" fill="#111" />
<line x1="98.25" y1="352.30" x2="98.25" y2="347.20" stroke="#777" stroke-width="0.7"/>
<line x1="96.45" y1="347.20" x2="100.05" y2="347.20" stroke="#777" stroke-width="0.7"/>
<polygon points="98.25,342.07 98.93,342.76 99.80,343.20 99.36,344.06 99.21,345.02 98.25,344.86 97.29,345.02 97.14,344.06 96.70,343.20 97.57,342.76" fill="#111"/>
<rect x="110.10" y="320.90" width="14.70" height="63.50" fill="#111" />
<line x1="117.45" y1="320.90" x2="117.45" y2="314.40" stroke="#777" stroke-width="0.7"/>
<line x1="115.65" y1="314.40" x2="119.25" y2="314.40" stroke="#777" stroke-width="0.7"/>
<polygon points="117.45,308.97 118.13,309.66 119.00,310.10 118.56,310.96 118.41,311.92 117.45,311.76 116.49,311.92 116.34,310.96 115.90,310.10 116.77,309.66" fill="#111"/>
<rect x="128.80" y="379.10" width="14.50" height="5.30" fill="#111" />
<line x1="136.05" y1="379.10" x2="136.05" y2="376.00" stroke="#777" stroke-width="0.7"/>
<line x1="134.25" y1="376.00" x2="137.85" y2="376.00" stroke="#777" stroke-width="0.7"/>
<rect x="147.90" y="368.60" width="14.70" height="15.80" fill="#111" />
<line x1="155.25" y1="368.60" x2="155.25" y2="364.20" stroke="#777" stroke-width="0.7"/>
<line x1="153.45" y1="364.20" x2="157.05" y2="364.20" stroke="#777" stroke-width="0.7"/>
<rect x="167.00" y="372.80" width="14.60" height="11.60" fill="#111" />
<line x1="174.30" y1="372.80" x2="174.30" y2="369.60" stroke="#777" stroke-width="0.7"/>
<line x1="172.50" y1="369.60" x2="176.10" y2="369.60" stroke="#777" stroke-width="0.7"/>
<polygon points="172.45,363.52 173.16,364.23 174.05,364.68 173.59,365.57 173.44,366.56 172.45,366.40 171.46,366.56 171.31,365.57 170.85,364.68 171.74,364.23" fill="#111"/>
<polygon points="176.15,363.52 176.86,364.23 177.75,364.68 177.29,365.57 177.14,366.56 176.15,366.40 175.16,366.56 175.01,365.57 174.55,364.68 175.44,364.23" fill="#111"/>
<rect x="185.80" y="375.10" width="14.40" height="9.30" fill="#111" />
<line x1="193.00" y1="375.10" x2="193.00" y2="369.60" stroke="#777" stroke-width="0.7"/>
<line x1="191.20" y1="369.60" x2="194.80" y2="369.60" stroke="#777" stroke-width="0.7"/>
<polygon points="191.15,363.52 191.86,364.23 192.75,364.68 192.29,365.57 192.14,366.56 191.15,366.40 190.16,366.56 190.01,365.57 189.55,364.68 190.44,364.23" fill="#111"/>
<polygon points="194.85,363.52 195.56,364.23 196.45,364.68 195.99,365.57 195.84,366.56 194.85,366.40 193.86,366.56 193.71,365.57 193.25,364.68 194.14,364.23" fill="#111"/>
<text transform="translate(31.00,367.40) rotate(-90)" x="0" y="0" font-size="8.0" font-weight="bold" fill="#000" stroke="#000" stroke-width="0.0" textLength="63.20" lengthAdjust="spacingAndGlyphs">p65 volume (RU)</text>
</g>
</svg>
</body></html>
